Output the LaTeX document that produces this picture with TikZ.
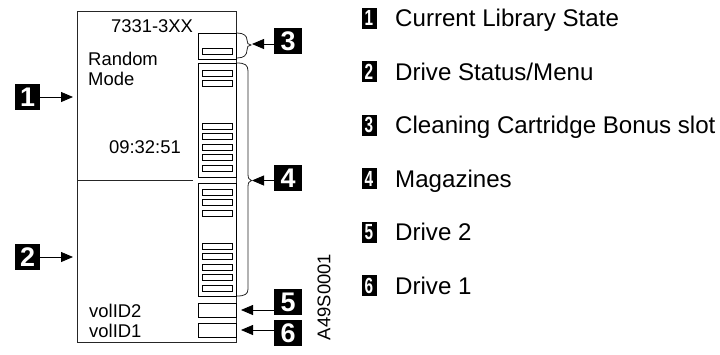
\documentclass[tikz,border=0pt]{standalone}
\usepackage{fontspec}
\usepackage{graphicx}
\setmainfont{Liberation Sans}
\usetikzlibrary{arrows.meta}
\tikzset{
  outline/.style={line width=0.8bp, draw=black!85},
  slot/.style={line width=0.8bp, draw=black},
  bracepath/.style={line width=0.8bp, draw=black!85},
  numbox/.style={fill=black, text=white, font=\fontsize{27}{27}\selectfont\bfseries, inner sep=0pt, minimum width=28bp, minimum height=26bp},
  legbox/.style={fill=black, text=white, font=\fontsize{22}{22}\selectfont\bfseries, inner sep=0pt, minimum width=15bp, minimum height=21bp},
  arr/.style={-{Triangle[length=12bp,width=10bp]}, line width=0.8bp},
  boxtext/.style={font=\fontsize{18.5}{20}\selectfont, inner sep=0pt},
  legtext/.style={font=\fontsize{24.2}{26}\selectfont, anchor=base west, inner sep=0pt}
}
\begin{document}
\begin{tikzpicture}[x=1bp,y=-1bp]
\useasboundingbox (0,0) rectangle (720,354);
% outer panel
\draw[outline] (77,11) rectangle (236,342);
\draw[outline] (77,180) -- (193,180);
% texts in panel
\node[boxtext, anchor=base] (model) at (152,32) {7331-3XX};
\node[boxtext, anchor=base west] (random) at (88,65) {Random};
\node[boxtext, anchor=base west] (mode) at (88,85) {Mode};
\node[boxtext, anchor=base] (time) at (145,153) {09:32:51};
\node[boxtext, anchor=base west] (vol2) at (89,317) {volID2};
\node[boxtext, anchor=base west] (vol1) at (89,337) {volID1};
% column
\draw[slot] (198,33) rectangle (236,59);
\draw[slot] (198,63) rectangle (236,177);
\draw[slot] (198,183) rectangle (236,296);
\draw[slot] (198,303) rectangle (236,317);
\draw[slot] (198,323) rectangle (236,337);
\foreach \y in {48,70,80.5,123,133.5,144,154.5,165,189,199.5,210,243,253.5,264,274.5,285}
  \draw[slot] (202,\y) rectangle (232,\y+6);
% braces
\draw[bracepath] (237,33) .. controls (244,33) and (247,36) .. (247,40)
  .. controls (247,43) and (248,45) .. (251,45)
  .. controls (248,45) and (247,47) .. (247,50)
  .. controls (247,55) and (244,58) .. (237,58);
\draw[bracepath] (237,63) .. controls (245,63) and (248,65) .. (248,71)
  -- (248,174) .. controls (248,178) and (249,180) .. (251.5,180.5)
  .. controls (249,181) and (248,183) .. (248,187)
  -- (248,289) .. controls (248,294) and (245,296) .. (237,296);
\coordinate (t1) at (73,97);
\coordinate (t2) at (73,257);
\coordinate (t3) at (252,44);
\coordinate (t4) at (252,180.5);
\coordinate (t5) at (241,310);
\coordinate (t6) at (241,330);
% number boxes
\node[numbox, minimum width=25bp] (n1) at (27.5,97) {1};
\node[numbox, minimum width=25bp] (n2) at (27.5,257) {2};
\node[numbox] (n3) at (288,41) {3};
\node[numbox] (n4) at (288,178) {4};
\node[numbox] (n5) at (288,302) {5};
\node[numbox] (n6) at (288,333) {6};
\draw[arr] (n1.east) -- (t1);
\draw[arr] (n2.east) -- (t2);
\draw[arr] (n3.west |- t3) -- (t3);
\draw[arr] (n4.west |- t4) -- (t4);
\draw[arr] (n5.west |- t5) -- (t5);
\draw[arr] (n6.west |- t6) -- (t6);
% figure id
\node[font=\fontsize{18.5}{18.5}\selectfont, rotate=90, inner sep=0pt] (fid) at (324,297) {A49S0001};
% legend
\foreach \i/\t [count=\k] in {1/{Current Library State},2/{Drive Status/Menu},3/{Cleaning Cartridge Bonus slot},4/{Magazines},5/{Drive 2},6/{Drive 1}}{
  \node[legbox] (l\k) at (369,{18+53.5*(\k-1)}) {\scalebox{0.7}[1]{\i}};
  \node[legtext] (lt\k) at (395,{26.5+53.5*(\k-1)}) {\t};
}
\end{tikzpicture}
\end{document}
